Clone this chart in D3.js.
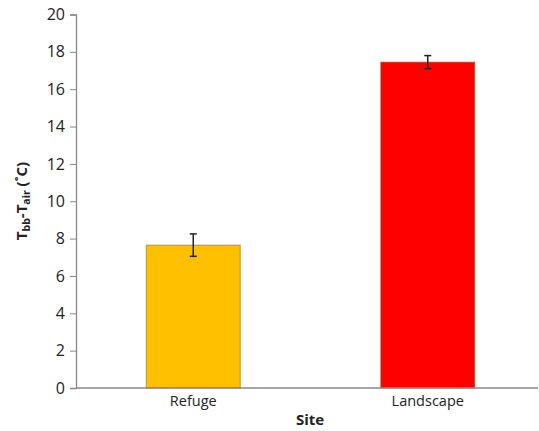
<!DOCTYPE html>
<html><head><meta charset="utf-8">
<script src="https://cdn.jsdelivr.net/npm/d3@7"></script>
<style>body{margin:0;background:#fff;} text{font-family:"Open Sans","Liberation Sans",sans-serif;}</style>
</head><body>
<svg id="c" width="539" height="431"></svg>
<script>
const categories = ["Refuge", "Landscape"];
const values = [7.65, 17.45];
const errors = [0.6, 0.35];
const colors = ["#FFC000", "#FF0000"];
const yTicks = [0,2,4,6,8,10,12,14,16,18,20];

const svg = d3.select("#c");
const x0 = 76, xEnd = 538, y0 = 388, yTop = 14.5;
const x = d3.scaleBand().domain(categories).range([x0, x0 + 2*234.5]).paddingInner(0.6).paddingOuter(0.3);
const y = d3.scaleLinear().domain([0, 20]).range([y0, yTop]);

// bars
const bw = 94;
svg.selectAll("rect.bar").data(categories).enter().append("rect")
  .attr("x", d => x(d) + x.bandwidth()/2 - bw/2)
  .attr("width", bw)
  .attr("y", (d,i) => y(values[i]))
  .attr("height", (d,i) => y(0) - y(values[i]))
  .attr("fill", (d,i) => colors[i])
  .attr("stroke", "#7f6a2a").attr("stroke-opacity", 0.6).attr("stroke-width", 1);

// error bars
categories.forEach((c,i) => {
  const cx = x(c) + x.bandwidth()/2;
  const g = svg.append("g").attr("stroke", "#222").attr("stroke-width", 1.5);
  g.append("line").attr("x1", cx).attr("x2", cx).attr("y1", y(values[i]+errors[i])).attr("y2", y(values[i]-errors[i]));
  g.append("line").attr("x1", cx-3.5).attr("x2", cx+3.5).attr("y1", y(values[i]+errors[i])).attr("y2", y(values[i]+errors[i]));
  g.append("line").attr("x1", cx-3.5).attr("x2", cx+3.5).attr("y1", y(values[i]-errors[i])).attr("y2", y(values[i]-errors[i]));
});

// y axis
const ya = svg.append("g").attr("transform", `translate(${x0},0)`)
  .call(d3.axisLeft(y).tickValues(yTicks).tickSize(6).tickPadding(5));
ya.select(".domain").attr("stroke", "#888").attr("stroke-width", 1.3);
ya.selectAll(".tick line").attr("stroke", "#888");
ya.selectAll(".tick text").attr("font-size", 16).attr("fill", "#222");

// x axis
const xa = svg.append("g").attr("transform", `translate(0,${y0})`)
  .call(d3.axisBottom(x).tickSize(0).tickPadding(8));
xa.select(".domain").remove();
xa.append("line").attr("x1", x0).attr("x2", xEnd).attr("y1", 0).attr("y2", 0).attr("stroke", "#888").attr("stroke-width", 1.3);
xa.selectAll(".tick text").attr("font-size", 14.5).attr("fill", "#222");

// x title
svg.append("text").attr("x", 310).attr("y", 425).attr("text-anchor", "middle")
  .attr("font-size", 15).attr("font-weight", "bold").attr("fill", "#222").text("Site");

// y title
const yt = svg.append("text").attr("transform", "translate(27,201) rotate(-90)")
  .attr("text-anchor", "middle").attr("font-size", 15).attr("font-weight", "bold").attr("fill", "#222");
yt.append("tspan").text("T");
yt.append("tspan").attr("font-size", 10.5).attr("dy", 3).text("bb");
yt.append("tspan").attr("dy", -3).text("-T");
yt.append("tspan").attr("font-size", 10.5).attr("dy", 3).text("air");
yt.append("tspan").attr("dy", -3).text(" (˚C)");
</script>
</body></html>
